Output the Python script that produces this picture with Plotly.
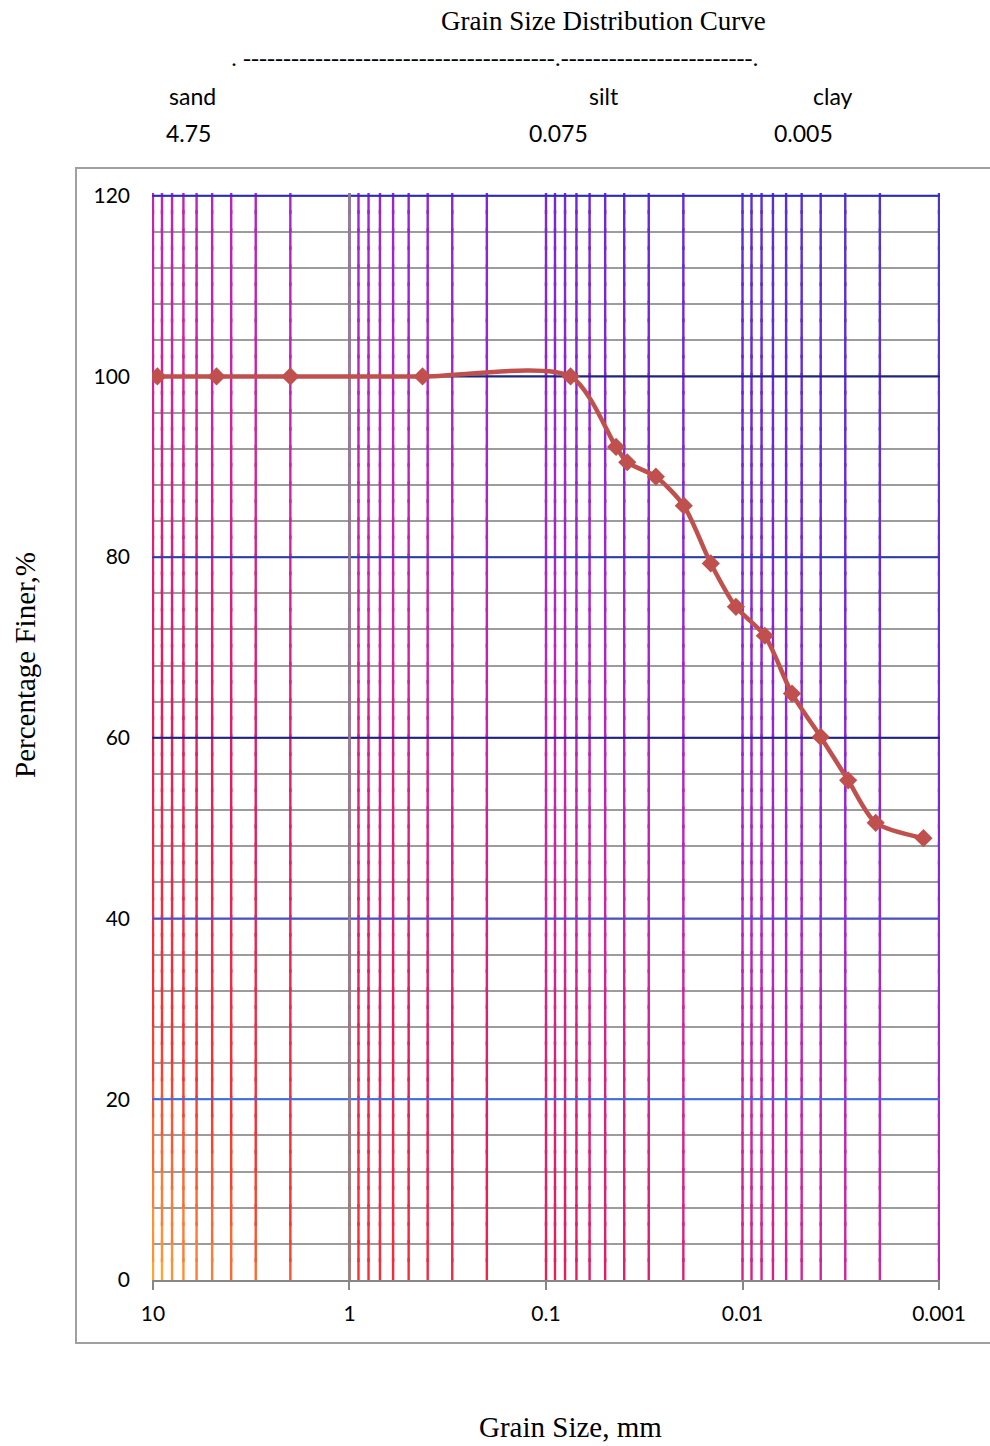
import math
import plotly.graph_objects as go

# ---------------- data ----------------
grain_size_mm = [9.5, 4.75, 2.0, 0.425, 0.075, 0.0440, 0.0386, 0.0276, 0.0199,
                 0.0145, 0.0108, 0.0077, 0.0056, 0.0040, 0.0029, 0.0021, 0.0012]
percent_finer = [100, 100, 100, 100, 100, 92.2, 90.5, 88.9, 85.7,
                 79.3, 74.5, 71.3, 64.9, 60.1, 55.3, 50.6, 48.9]

x_tick_vals = [10, 1, 0.1, 0.01, 0.001]
x_tick_text = ["10", "1", "0.1", "0.01", "0.001"]
y_tick_vals = [0, 20, 40, 60, 80, 100, 120]
y_tick_text = ["0", "20", "40", "60", "80", "100", "120"]
y_major_grid = [20, 40, 60, 80, 100, 120]
y_major_colors = ["#3b6fe6", "#4a4fd2", "#1e1e8c", "#2b3db0", "#1c2580", "#2a2ac4"]

zone_names = ["sand", "silt", "clay"]
zone_limits = ["4.75", "0.075", "0.005"]

title_text = "Grain Size Distribution Curve"
x_title = "Grain Size, mm"
y_title = "Percentage Finer,%"

# ---------------- geometry helpers ----------------
FIG_W, FIG_H = 990, 1446
X_RANGE = [1.005, -3.005]
Y_RANGE = [0, 120.3]
M_L, M_R, M_T, M_B = 152, 50, 193, 166
PW = FIG_W - M_L - M_R
PH = FIG_H - M_T - M_B


def px(xp):
    return (xp - M_L) / PW


def py(yp):
    return (FIG_H - M_B - yp) / PH


# gradient used by the vertical minor grid lines
stops = [(0.00, (255, 165, 55)), (0.12, (250, 50, 45)), (0.28, (228, 28, 95)),
         (0.45, (208, 36, 160)), (0.60, (168, 36, 205)), (0.78, (110, 38, 218)),
         (1.00, (72, 56, 200))]


def grad(t):
    t = max(0.0, min(1.0, t))
    for (t0, c0), (t1, c1) in zip(stops[:-1], stops[1:]):
        if t <= t1:
            f = (t - t0) / (t1 - t0) if t1 > t0 else 0
            c = [round(a + (b - a) * f) for a, b in zip(c0, c1)]
            return "rgb(%d,%d,%d)" % tuple(c)
    return "rgb(%d,%d,%d)" % stops[-1][1]


fig = go.Figure()

# vertical (log) grid lines with a diagonal colour gradient
v_grid = [10] + [k * 10 ** e for e in (0, -1, -2, -3) for k in range(9, 0, -1)]
Q = 48
N = 60
buckets = {}
for gx in v_grid:
    u = (1 - math.log10(gx)) / 4
    for j in range(N):
        y0 = 120 * j / N
        y1 = min(120.3, 120 * (j + 1) / N + 0.4)
        if j == N - 1:
            y1 = 120.3
        v = (j + 0.5) / N
        q = round((u + v) / 2 * Q)
        bx, by = buckets.setdefault(q, ([], []))
        bx += [gx, gx, None]
        by += [y0, y1, None]

for q in sorted(buckets):
    bx, by = buckets[q]
    fig.add_trace(go.Scatter(x=bx, y=by, mode="lines",
                             line=dict(color=grad(q / Q), width=2.4),
                             hoverinfo="skip", showlegend=False))

# major horizontal grid lines
for yv, col in zip(y_major_grid, y_major_colors):
    fig.add_trace(go.Scatter(x=[10 ** X_RANGE[0], 10 ** X_RANGE[1]], y=[yv, yv],
                             mode="lines", line=dict(color=col, width=2),
                             hoverinfo="skip", showlegend=False))

# vertical axis line (crosses at 1)
fig.add_trace(go.Scatter(x=[1, 1], y=[0, 120.3], mode="lines",
                         line=dict(color="#878787", width=2.5),
                         hoverinfo="skip", showlegend=False))

# data
fig.add_trace(go.Scatter(x=grain_size_mm, y=percent_finer, mode="lines+markers",
                         line=dict(color="#c0504d", width=4.5, shape="spline", smoothing=0.75),
                         marker=dict(symbol="diamond", size=14, color="#c0504d"),
                         showlegend=False))

tick_font = dict(family="Lato", size=21, color="#000000")

fig.update_xaxes(type="log", range=X_RANGE, tickvals=x_tick_vals, ticktext=x_tick_text,
                 showgrid=False, zeroline=False, showline=True, linecolor="#878787",
                 linewidth=2, ticks="outside", ticklen=8, tickwidth=2, tickcolor="#878787",
                 tickfont=tick_font, ticklabelstandoff=6)
fig.update_yaxes(range=Y_RANGE, tickvals=y_tick_vals, ticktext=y_tick_text,
                 showgrid=False, zeroline=False, showline=False, ticks="",
                 tickfont=tick_font, ticklabelstandoff=21,
                 minor=dict(dtick=4, tick0=0, showgrid=True, gridcolor="#9c9c9c",
                            gridwidth=1.8, ticks=""))

serif = "Liberation Serif, Times New Roman, serif"
sans = "Lato, Calibri, sans-serif"
annotations = [
    dict(text=title_text, x=px(603), y=py(21), font=dict(family=serif, size=27)),
    dict(text=". " + "-" * 39 + "." + "-" * 24 + ".", x=px(229), y=py(58), xanchor="left",
         font=dict(family=serif, size=24)),
    dict(text=zone_names[0], x=px(192), y=py(96), font=dict(family=sans, size=23)),
    dict(text=zone_names[1], x=px(604), y=py(96), font=dict(family=sans, size=23)),
    dict(text=zone_names[2], x=px(833), y=py(96), font=dict(family=sans, size=23)),
    dict(text=zone_limits[0], x=px(188), y=py(133), font=dict(family=sans, size=23)),
    dict(text=zone_limits[1], x=px(558), y=py(133), font=dict(family=sans, size=23)),
    dict(text=zone_limits[2], x=px(803), y=py(133), font=dict(family=sans, size=23)),
    dict(text=x_title, x=px(570), y=py(1427), font=dict(family=serif, size=29)),
    dict(text=y_title, x=px(25), y=py(665), textangle=-90, font=dict(family=serif, size=29)),
]
for a in annotations:
    a.setdefault("xanchor", "center")
    a.update(xref="paper", yref="paper", yanchor="middle", showarrow=False)
    a["font"]["color"] = "#000000"

fig.update_layout(
    width=FIG_W, height=FIG_H,
    margin=dict(l=M_L, r=M_R, t=M_T, b=M_B, autoexpand=False),
    paper_bgcolor="white", plot_bgcolor="white",
    annotations=annotations,
    shapes=[dict(type="rect", xref="paper", yref="paper", x0=px(76), x1=px(1000),
                 y0=py(1343), y1=py(168), line=dict(color="#a0a0a0", width=2),
                 layer="below")],
)

fig.write_html("out.html",
               config={"displayModeBar": False},
               post_script="document.body.style.margin='0';document.body.style.padding='0';"
                           "document.body.style.overflow='hidden';")
